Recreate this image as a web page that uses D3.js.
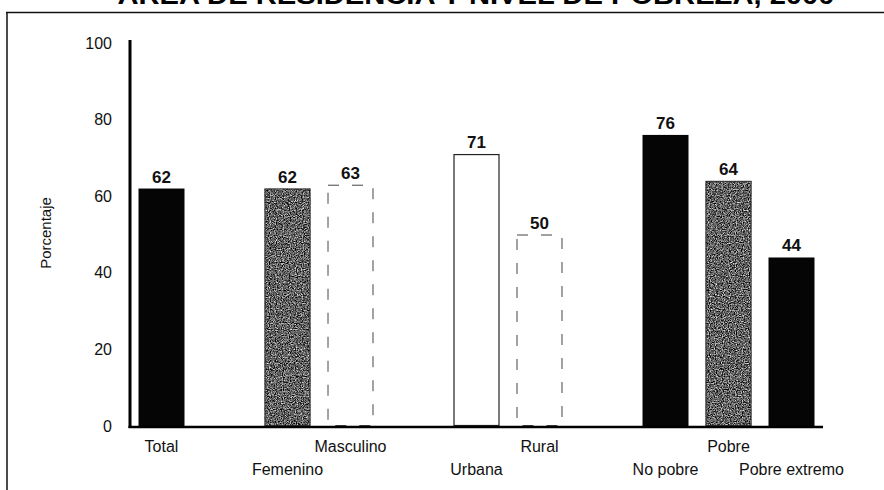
<!DOCTYPE html>
<html>
<head>
<meta charset="utf-8">
<script src="https://cdn.jsdelivr.net/npm/d3@7"></script>
<style>
  html, body { margin: 0; padding: 0; background: #fff; }
  svg { display: block; }
</style>
</head>
<body>
<svg id="chart" width="884" height="490"></svg>
<script>
// ---- data ----
const title = "ÁREA DE RESIDENCIA Y NIVEL DE POBREZA, 2000";
const yAxisTitle = "Porcentaje";
const categories = ["Total", "Femenino", "Masculino", "Urbana", "Rural", "No pobre", "Pobre", "Pobre extremo"];
const values = [62, 62, 63, 71, 50, 76, 64, 44];
const slots = ["Total", "_g1", "Femenino", "Masculino", "_g2", "Urbana", "Rural", "_g3", "No pobre", "Pobre", "Pobre extremo"];
const labelRows = [0, 1, 0, 1, 0, 1, 0, 1];
const yTicks = [0, 20, 40, 60, 80, 100];

// ---- styles ----
const barStyle = {
  "Total": "black", "Femenino": "stipple", "Masculino": "dashed",
  "Urbana": "outline", "Rural": "dashed", "No pobre": "black",
  "Pobre": "stipple", "Pobre extremo": "black"
};
const FONT = "Liberation Sans, Arial, sans-serif";

const svg = d3.select("#chart");
const defs = svg.append("defs");
const f = defs.append("filter").attr("id", "speckle")
  .attr("x", 0).attr("y", 0).attr("width", 1).attr("height", 1)
  .attr("color-interpolation-filters", "sRGB");
f.append("feTurbulence").attr("type", "fractalNoise").attr("baseFrequency", 0.85)
  .attr("numOctaves", 2).attr("seed", 5).attr("result", "noise");
f.append("feColorMatrix").attr("in", "noise").attr("type", "matrix")
  .attr("values", "1.6 0 0 0 -0.42  1.6 0 0 0 -0.42  1.6 0 0 0 -0.42  0 0 0 0 1")
  .attr("result", "grain");
f.append("feComposite").attr("in", "grain").attr("in2", "SourceAlpha").attr("operator", "in");

// frame
svg.append("line").attr("x1", 6).attr("x2", 884).attr("y1", 12.5).attr("y2", 12.5)
  .attr("stroke", "#111").attr("stroke-width", 1.5);
svg.append("line").attr("x1", 7).attr("x2", 7).attr("y1", 12).attr("y2", 490)
  .attr("stroke", "#111").attr("stroke-width", 1.5);

// title (clipped by the top edge, as in the reference)
svg.append("text").attr("x", 476).attr("y", 4).attr("text-anchor", "middle")
  .attr("font-family", FONT).attr("font-weight", "bold")
  .attr("font-size", 26).attr("textLength", 717).attr("lengthAdjust", "spacingAndGlyphs")
  .text(title);

const x = d3.scaleBand().domain(slots).range([130, 823]).paddingInner(0.27).paddingOuter(0.135);
const y = d3.scaleLinear().domain([0, 100]).range([426, 43]);

const data = categories.map((c, i) => ({ c, v: values[i], row: labelRows[i] }));

// bars
const bars = svg.append("g");
data.forEach(d => {
  const st = barStyle[d.c];
  const bx = x(d.c), bw = x.bandwidth(), by = y(d.v), bh = y(0) - y(d.v);
  if (st === "black") {
    bars.append("rect").attr("x", bx).attr("y", by).attr("width", bw).attr("height", bh)
      .attr("fill", "#050505");
  } else if (st === "stipple") {
    bars.append("rect").attr("x", bx).attr("y", by).attr("width", bw).attr("height", bh)
      .attr("fill", "#666").attr("filter", "url(#speckle)");
    bars.append("rect").attr("x", bx + 0.5).attr("y", by + 0.5).attr("width", bw - 1).attr("height", bh - 1)
      .attr("fill", "none").attr("stroke", "#333").attr("stroke-width", 1);
  } else if (st === "outline") {
    bars.append("rect").attr("x", bx + 0.5).attr("y", by + 0.5).attr("width", bw - 1).attr("height", bh - 1)
      .attr("fill", "#fff").attr("stroke", "#222").attr("stroke-width", 1.2);
  } else if (st === "dashed") {
    bars.append("rect").attr("x", bx + 0.5).attr("y", by + 0.5).attr("width", bw - 1).attr("height", bh - 1)
      .attr("fill", "#fff").attr("stroke", "#444").attr("stroke-width", 1)
      .attr("stroke-dasharray", "11,13");
  }
});

// axes
svg.append("line").attr("x1", 130).attr("x2", 130).attr("y1", y(100) - 3).attr("y2", y(0) + 2)
  .attr("stroke", "#000").attr("stroke-width", 3);
svg.append("line").attr("x1", 128.5).attr("x2", 823).attr("y1", y(0) + 1).attr("y2", y(0) + 1)
  .attr("stroke", "#000").attr("stroke-width", 2.5);

// y tick labels via axis
const yAxis = d3.axisLeft(y).tickValues(yTicks).tickSize(0).tickPadding(18);
const ya = svg.append("g").attr("transform", "translate(130,0)").call(yAxis);
ya.select(".domain").remove();
ya.selectAll("text").attr("font-family", FONT).attr("font-size", 16).attr("fill", "#111");

// y axis title
svg.append("text").attr("transform", "translate(51,233) rotate(-90)").attr("text-anchor", "middle")
  .attr("font-family", FONT).attr("font-size", 15).attr("fill", "#111")
  .text(yAxisTitle);

// value labels
svg.append("g").selectAll("text").data(data).join("text")
  .attr("x", d => x(d.c) + x.bandwidth() / 2).attr("y", d => y(d.v) - 6)
  .attr("text-anchor", "middle").attr("font-family", FONT)
  .attr("font-weight", "bold").attr("font-size", 17).attr("fill", "#111")
  .text(d => d.v);

// category labels
svg.append("g").selectAll("text").data(data).join("text")
  .attr("x", d => x(d.c) + x.bandwidth() / 2).attr("y", d => d.row === 0 ? 452 : 475)
  .attr("text-anchor", "middle").attr("font-family", FONT)
  .attr("font-size", 16).attr("fill", "#111")
  .text(d => d.c);
</script>
</body>
</html>
